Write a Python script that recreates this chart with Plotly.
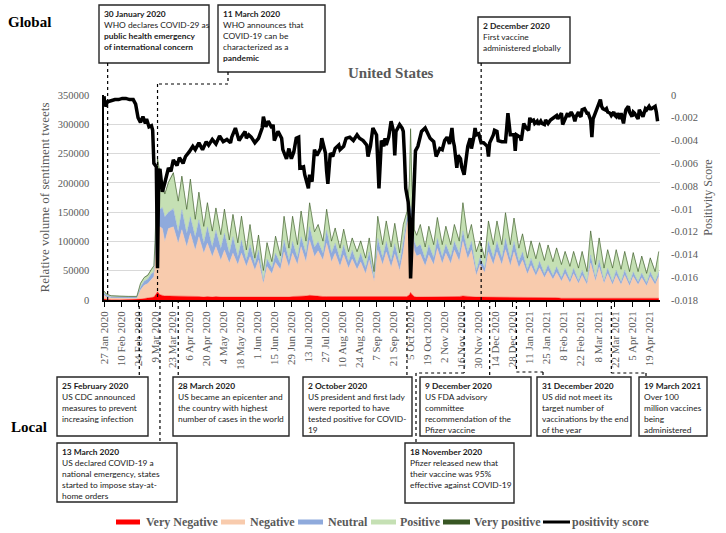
import pandas as pd
import plotly.graph_objects as go

BASE = pd.Timestamp("2020-01-27")
X_START, X_END = pd.Timestamp("2020-01-27"), pd.Timestamp("2021-04-28")

# ---------------- data (days since 27 Jan 2020) ----------------
area_day = [
    0, 2, 6, 13, 20, 27, 30, 33, 36, 39,
    41, 42, 43, 44, 46, 48, 50, 53, 57, 61,
    64, 68, 71, 75, 78, 82, 85, 89, 92, 96,
    99, 103, 106, 110, 113, 117, 120, 124, 127, 131,
    134, 138, 141, 145, 148, 152, 155, 159, 162, 166,
    169, 173, 176, 180, 183, 187, 190, 194, 197, 201,
    204, 208, 211, 215, 218, 222, 225, 229, 232, 236,
    239, 243, 246, 249, 251, 252, 253, 255, 257, 260,
    264, 267, 271, 274, 278, 281, 285, 288, 292, 295,
    299, 302, 306, 309, 313, 316, 320, 323, 327, 330,
    334, 337, 341, 344, 348, 351, 355, 358, 362, 365,
    369, 372, 376, 379, 383, 386, 390, 393, 397, 400,
    404, 407, 411, 414, 418, 421, 425, 428, 432, 435,
    439, 442, 446, 449, 453, 456,
]
very_negative = [
    1500, 800, 500, 400, 400, 500, 1500, 2500, 3000, 3500,
    5000, 8000, 12000, 14000, 9000, 8000, 7000, 7000, 7000, 6000,
    7000, 6000, 7000, 6000, 6000, 5000, 6000, 5000, 6000, 5000,
    5000, 5000, 5000, 4000, 5000, 4000, 4000, 4000, 4000, 4000,
    4000, 4000, 5000, 5000, 5000, 5000, 6000, 6000, 6000, 7000,
    8000, 7000, 6000, 6000, 6000, 6000, 6000, 5000, 5000, 5000,
    5000, 5000, 5000, 5000, 5000, 5000, 5000, 5000, 5000, 5000,
    5000, 5000, 5000, 6000, 9000, 13000, 10000, 6000, 5000, 5000,
    5000, 5000, 5000, 5000, 5000, 5000, 6000, 6000, 6000, 7000,
    6000, 6000, 5000, 5000, 5000, 5000, 5000, 5000, 5000, 5000,
    5000, 5000, 4000, 4000, 4000, 4000, 4000, 4000, 4000, 4000,
    4000, 4000, 3000, 3000, 3000, 3000, 3000, 3000, 3000, 4000,
    3000, 3000, 3000, 3000, 3000, 3000, 3000, 3000, 3000, 3000,
    3000, 3000, 3000, 3000, 3000, 3000,
]
negative = [
    6500, 4200, 3000, 2600, 2600, 2500, 15500, 22500, 25000, 32500,
    35000, 62000, 98000, 111000, 116000, 114000, 93000, 115000, 118000, 91000,
    113000, 85000, 107000, 79000, 102000, 75000, 91000, 69000, 85000, 63000,
    80000, 58000, 75000, 56000, 75000, 53000, 70000, 47000, 64000, 24000,
    53000, 41000, 59000, 47000, 77000, 51000, 74000, 54000, 85000, 58000,
    94000, 67000, 78000, 62000, 91000, 59000, 74000, 52000, 72000, 49000,
    65000, 47000, 60000, 40000, 63000, 27000, 80000, 55000, 77000, 51000,
    73000, 45000, 77000, 124000, 131000, 132000, 128000, 79000, 70000, 73000,
    53000, 72000, 55000, 83000, 57000, 75000, 56000, 79000, 60000, 93000,
    64000, 79000, 37000, 55000, 42000, 77000, 55000, 77000, 55000, 81000,
    53000, 77000, 51000, 64000, 40000, 55000, 37000, 51000, 34000, 46000,
    31000, 43000, 29000, 42000, 26000, 42000, 25000, 39000, 23000, 59000,
    29000, 53000, 25000, 42000, 23000, 39000, 23000, 39000, 21000, 37000,
    23000, 35000, 21000, 37000, 23000, 37000,
]
neutral = [
    4000, 3000, 2000, 2000, 1800, 2000, 5000, 7000, 8000, 9000,
    8000, 15000, 40000, 40000, 30000, 36000, 42000, 28000, 31000, 20000,
    34000, 23000, 28000, 23000, 29000, 17000, 28000, 17000, 28000, 20000,
    29000, 17000, 28000, 14000, 22000, 11000, 20000, 11000, 17000, 5000,
    13000, 10000, 16000, 10000, 20000, 12000, 20000, 12000, 17000, 15000,
    23000, 16000, 16000, 12000, 22000, 15000, 17000, 13000, 17000, 11000,
    15000, 10000, 15000, 10000, 14000, 6000, 20000, 12000, 18000, 12000,
    18000, 12000, 18000, 10000, 10000, 15000, 12000, 15000, 15000, 17000,
    12000, 17000, 12000, 17000, 12000, 15000, 12000, 15000, 14000, 18000,
    12000, 15000, 8000, 12000, 8000, 18000, 12000, 18000, 12000, 19000,
    12000, 18000, 11000, 14000, 8000, 12000, 7000, 11000, 7000, 10000,
    7000, 10000, 6000, 9000, 6000, 9000, 5000, 9000, 5000, 14000,
    6000, 12000, 5000, 9000, 5000, 9000, 5000, 9000, 5000, 8000,
    5000, 8000, 5000, 8000, 5000, 8000,
]
positive = [
    3000, 2000, 1500, 1000, 1200, 1000, 6000, 6000, 6000, 7000,
    10000, 15000, 50000, 75000, 60000, 37000, 38000, 50000, 60000, 51000,
    56000, 40000, 63000, 29000, 46000, 28000, 40000, 26000, 37000, 23000,
    40000, 22000, 37000, 23000, 40000, 17000, 34000, 9000, 25000, 17000,
    27000, 10000, 28000, 13000, 40000, 20000, 42000, 22000, 43000, 20000,
    40000, 26000, 28000, 20000, 35000, 20000, 25000, 18000, 26000, 17000,
    20000, 20000, 20000, 16000, 23000, 10000, 37000, 22000, 34000, 22000,
    34000, 18000, 28000, 10000, 50000, 130000, 50000, 20000, 20000, 33000,
    20000, 31000, 22000, 35000, 20000, 30000, 20000, 28000, 20000, 47000,
    23000, 28000, 32000, 28000, 16000, 34000, 22000, 34000, 22000, 43000,
    24000, 39000, 22000, 30000, 19000, 29000, 22000, 31000, 22000, 33000,
    23000, 31000, 22000, 28000, 22000, 28000, 21000, 31000, 17000, 40000,
    22000, 37000, 21000, 31000, 23000, 34000, 21000, 31000, 19000, 32000,
    17000, 28000, 16000, 23000, 17000, 34000,
]
very_positive = [
    300, 300, 200, 200, 200, 200, 500, 500, 500, 500,
    500, 800, 1500, 2000, 1500, 1200, 1000, 1200, 1500, 800,
    1500, 800, 1500, 800, 1200, 600, 1200, 600, 1200, 600,
    1200, 600, 1200, 600, 1200, 500, 1000, 500, 1000, 400,
    1000, 500, 1000, 500, 1000, 500, 1000, 500, 1000, 500,
    1000, 500, 1000, 500, 1000, 500, 1000, 500, 1000, 500,
    1000, 500, 1000, 500, 1000, 500, 1000, 500, 1000, 500,
    1000, 500, 1000, 800, 1500, 2500, 1500, 800, 500, 1000,
    500, 1000, 500, 1000, 500, 1000, 500, 1000, 500, 1200,
    500, 1000, 500, 1000, 500, 1000, 500, 1000, 500, 1000,
    500, 1000, 500, 1000, 500, 1000, 500, 1000, 500, 1000,
    500, 1000, 500, 1000, 500, 1000, 500, 1000, 500, 1000,
    500, 1000, 500, 1000, 500, 1000, 500, 1000, 500, 1000,
    500, 1000, 500, 1000, 500, 1000,
]

pos_day = [
    0, 1, 3, 6, 9, 12, 15, 18, 21, 24,
    26, 28, 30, 32, 34, 35, 37, 39, 40, 41,
    43, 44, 45, 46, 48, 50, 53, 55, 57, 60,
    62, 65, 67, 70, 73, 75, 78, 81, 84, 86,
    89, 92, 95, 98, 101, 104, 105, 108, 111, 114,
    116, 117, 119, 121, 124, 127, 130, 131, 133, 135,
    138, 139, 140, 143, 146, 147, 150, 152, 154, 156,
    158, 160, 161, 164, 165, 168, 169, 171, 172, 173,
    175, 178, 179, 182, 183, 184, 186, 188, 190, 193,
    194, 197, 199, 202, 205, 208, 210, 213, 216, 217,
    219, 221, 224, 226, 228, 230, 231, 232, 234, 235,
    236, 238, 239, 240, 242, 243, 245, 246, 247, 248,
    250, 251, 252, 254, 255, 256, 258, 259, 261, 264,
    266, 268, 271, 272, 273, 276, 278, 280, 282, 284,
    286, 287, 288, 290, 291, 293, 294, 296, 298, 299,
    301, 302, 304, 305, 306, 308, 309, 310, 312, 315,
    316, 317, 320, 321, 323, 324, 327, 330, 331, 332,
    334, 335, 337, 338, 339, 342, 343, 345, 347, 349,
    350, 351, 353, 354, 356, 357, 359, 360, 362, 363,
    365, 367, 370, 372, 373, 375, 376, 377, 379, 381,
    382, 384, 386, 387, 388, 390, 391, 392, 393, 395,
    397, 398, 400, 401, 402, 403, 405, 406, 408, 409,
    410, 412, 413, 414, 416, 417, 419, 420, 421, 422,
    424, 425, 427, 428, 429, 431, 432, 434, 435, 436,
    438, 439, 440, 442, 443, 445, 446, 448, 449, 450,
    452, 453, 454, 455,
]
pos_score = [
    -0.0001, -0.0010, -0.0006, -0.0005, -0.0004, -0.0004, -0.0003, -0.0003, -0.0004, -0.0004,
    -0.0008, -0.0020, -0.0024, -0.0019, -0.0025, -0.0021, -0.0028, -0.0027, -0.0031, -0.0060,
    -0.0063, -0.0152, -0.0067, -0.0065, -0.0085, -0.0077, -0.0064, -0.0067, -0.0057, -0.0062,
    -0.0055, -0.0060, -0.0054, -0.0050, -0.0045, -0.0048, -0.0042, -0.0048, -0.0041, -0.0044,
    -0.0039, -0.0043, -0.0036, -0.0041, -0.0039, -0.0042, -0.0037, -0.0029, -0.0040, -0.0035,
    -0.0032, -0.0038, -0.0035, -0.0037, -0.0042, -0.0038, -0.0029, -0.0019, -0.0028, -0.0023,
    -0.0029, -0.0026, -0.0040, -0.0032, -0.0038, -0.0048, -0.0056, -0.0047, -0.0056, -0.0050,
    -0.0038, -0.0037, -0.0064, -0.0063, -0.0070, -0.0082, -0.0070, -0.0076, -0.0059, -0.0048,
    -0.0053, -0.0047, -0.0038, -0.0051, -0.0067, -0.0078, -0.0051, -0.0054, -0.0047, -0.0044,
    -0.0048, -0.0045, -0.0038, -0.0037, -0.0040, -0.0035, -0.0038, -0.0040, -0.0044, -0.0054,
    -0.0045, -0.0029, -0.0035, -0.0082, -0.0040, -0.0045, -0.0038, -0.0044, -0.0037, -0.0029,
    -0.0023, -0.0032, -0.0053, -0.0032, -0.0028, -0.0026, -0.0029, -0.0032, -0.0054, -0.0082,
    -0.0094, -0.0108, -0.0161, -0.0105, -0.0073, -0.0049, -0.0045, -0.0041, -0.0032, -0.0029,
    -0.0034, -0.0038, -0.0041, -0.0048, -0.0054, -0.0047, -0.0048, -0.0040, -0.0037, -0.0043,
    -0.0029, -0.0040, -0.0045, -0.0064, -0.0053, -0.0056, -0.0063, -0.0070, -0.0056, -0.0045,
    -0.0038, -0.0047, -0.0037, -0.0029, -0.0035, -0.0034, -0.0038, -0.0042, -0.0042, -0.0045,
    -0.0054, -0.0042, -0.0035, -0.0031, -0.0032, -0.0040, -0.0041, -0.0041, -0.0029, -0.0016,
    -0.0035, -0.0035, -0.0035, -0.0049, -0.0035, -0.0037, -0.0040, -0.0025, -0.0029, -0.0031,
    -0.0020, -0.0023, -0.0022, -0.0025, -0.0023, -0.0026, -0.0023, -0.0025, -0.0026, -0.0022,
    -0.0025, -0.0022, -0.0019, -0.0018, -0.0021, -0.0018, -0.0016, -0.0026, -0.0021, -0.0016,
    -0.0019, -0.0015, -0.0019, -0.0023, -0.0019, -0.0015, -0.0018, -0.0019, -0.0013, -0.0012,
    -0.0016, -0.0016, -0.0022, -0.0037, -0.0021, -0.0018, -0.0013, -0.0009, -0.0004, -0.0010,
    -0.0012, -0.0013, -0.0012, -0.0015, -0.0016, -0.0018, -0.0015, -0.0018, -0.0019, -0.0016,
    -0.0021, -0.0016, -0.0025, -0.0018, -0.0013, -0.0010, -0.0015, -0.0019, -0.0015, -0.0016,
    -0.0019, -0.0021, -0.0013, -0.0018, -0.0019, -0.0012, -0.0013, -0.0010, -0.0012, -0.0012,
    -0.0010, -0.0010, -0.0015, -0.0023,
]

tick_labels = [
    "27 Jan 2020", "10 Feb 2020", "24 Feb 2020", "9 Mar 2020", "23 Mar 2020",
    "6 Apr 2020", "20 Apr 2020", "4 May 2020", "18 May 2020", "1 Jun 2020",
    "15 Jun 2020", "29 Jun 2020", "13 Jul 2020", "27 Jul 2020", "10 Aug 2020",
    "24 Aug 2020", "7 Sep 2020", "21 Sep 2020", "5 Oct 2020", "19 Oct 2020",
    "2 Nov 2020", "16 Nov 2020", "30 Nov 2020", "14 Dec 2020", "28 Dec 2020",
    "11 Jan 2021", "25 Jan 2021", "8 Feb 2021", "22 Feb 2021", "8 Mar 2021",
    "22 Mar 2021", "5 Apr 2021", "19 Apr 2021",
]
left_ticks = [0, 50000, 100000, 150000, 200000, 250000, 300000, 350000]
right_ticks = [0, -0.002, -0.004, -0.006, -0.008, -0.01, -0.012, -0.014, -0.016, -0.018]
right_labels = ["0", "-0.002", "-0.004", "-0.006", "-0.008", "-0.01", "-0.012", "-0.014", "-0.016", "-0.018"]

events = [
    ("2020-01-30", "<b>30 January 2020</b><br>WHO declares COVID-29 as<br><b>public health emergency</b><br><b>of international concern</b>"),
    ("2020-03-11", "<b>11 March 2020</b><br>WHO announces that<br>COVID-19 can be<br>characterized as a<br><b>pandemic</b>"),
    ("2020-12-02", "<b>2 December 2020</b><br>First vaccine<br>administered globally"),
    ("2020-02-25", "<b>25 February 2020</b><br>US CDC announced<br>measures to prevent<br>increasing infection"),
    ("2020-03-28", "<b>28 March 2020</b><br>US became an epicenter and<br>the country with highest<br>number of cases in the world"),
    ("2020-10-02", "<b>2 October 2020</b><br>US president and first lady<br>were reported to have<br>tested positive for COVID-<br>19"),
    ("2020-12-09", "<b>9 December 2020</b><br>US FDA advisory<br>committee<br>recommendation of the<br>Pfizer vaccine"),
    ("2020-12-31", "<b>31 December 2020</b><br>US did not meet its<br>target number of<br>vaccinations by the end<br>of the year"),
    ("2021-03-19", "<b>19 March 2021</b><br>Over 100<br>million vaccines<br>being<br>administered"),
    ("2020-03-13", "<b>13 March 2020</b><br>US declared COVID-19 a<br>national emergency, states<br>started to impose stay-at-<br>home orders"),
    ("2020-11-18", "<b>18 November 2020</b><br>Pfizer released new that<br>their vaccine was 95%<br>effective against COVID-19"),
]
box_px = [
    (99, 5, 209, 63), (218, 5, 325, 72), (478, 17, 570, 63),
    (57, 377, 148, 436), (173, 377, 289, 436), (303, 377, 412, 436),
    (420, 377, 531, 436), (537, 377, 631, 436), (639, 377, 707, 436),
    (57, 443, 177, 502), (405, 443, 514, 503),
]

# ---------------- figure ----------------
W, H = 726, 533
L, R, T, B = 104, 66, 95, 233
PW, PH = W - L - R, H - T - B


def px(x):
    return (x - L) / PW


def py(y):
    return (T + PH - y) / PH


def dx(date):
    d = pd.Timestamp(date)
    return (d - X_START) / (X_END - X_START)


area_x = [BASE + pd.Timedelta(days=d) for d in area_day]
pos_x = [BASE + pd.Timedelta(days=d) for d in pos_day]

fig = go.Figure()
layers = [
    ("Very Negative", very_negative, "#FF0000"),
    ("Negative", negative, "#F8CBAD"),
    ("Neutral", neutral, "#8FAADC"),
    ("Positive", positive, "#C5E0B4"),
    ("Very positive", very_positive, "#375623"),
]
for name, vals, col in layers:
    fig.add_trace(go.Scatter(
        x=area_x, y=vals, name=name, mode="lines", stackgroup="s",
        line=dict(color=col, width=0.6 if name == "Very positive" else 0.4),
        fillcolor=col,
    ))
fig.add_trace(go.Scatter(
    x=pos_x, y=pos_score, name="positivity score", mode="lines",
    line=dict(color="black", width=3.5), yaxis="y2",
))

serif = "Liberation Serif, Times New Roman, serif"
gray = "#595959"
boxfont = "Lato, sans-serif"

shapes = []
annotations = []
DOT = dict(color="black", width=1.2, dash="dot")

for (date, text), (x0, y0, x1, y1) in zip(events, box_px):
    shapes.append(dict(type="rect", xref="paper", yref="paper", x0=px(x0), x1=px(x1),
                       y0=py(y1), y1=py(y0), line=dict(color="#262626", width=1.4),
                       fillcolor="white", layer="above"))
    annotations.append(dict(xref="paper", yref="paper", x=px(x0 + 3), y=py(y0 + 2),
                            xanchor="left", yanchor="top", align="left", showarrow=False,
                            text=text, font=dict(family=boxfont, size=8.4, color="#1a1a1a")))


def seg(xa, ya, xb, yb):
    shapes.append(dict(type="line", xref="paper", yref="paper", x0=xa, y0=ya, x1=xb, y1=yb,
                       line=DOT, layer="above"))


# upper connectors
seg(dx("2020-01-30"), py(63), dx("2020-01-30"), py(300))
seg(px(228), py(72), px(228), py(84))
seg(px(228), py(84), dx("2020-03-11"), py(84))
seg(dx("2020-03-11"), py(84), dx("2020-03-11"), py(300))
seg(dx("2020-12-02"), py(63), dx("2020-12-02"), py(300))
# lower connectors
for d in ["2020-02-25", "2020-03-28", "2020-10-02", "2020-12-09"]:
    seg(dx(d), py(300), dx(d), py(377))
seg(dx("2020-03-13"), py(300), dx("2020-03-13"), py(443))
seg(dx("2020-11-18"), py(300), dx("2020-11-18"), py(373))
seg(dx("2020-11-18"), py(373), px(416), py(373))
seg(px(416), py(373), px(416), py(443))
seg(dx("2020-12-31"), py(300), dx("2020-12-31"), py(372))
seg(dx("2020-12-31"), py(372), px(543), py(372))
seg(px(543), py(372), px(543), py(377))
seg(dx("2021-03-19"), py(300), dx("2021-03-19"), py(373))
seg(dx("2021-03-19"), py(373), px(646), py(373))
seg(px(646), py(373), px(646), py(377))

# legend (drawn as swatches + labels, one row like the original)
legend_items = [(n, c) for n, _, c in layers] + [("positivity score", "black")]
swatch_px = [(116, 140), (221, 245), (298, 323), (371, 396), (443, 470), (543, 570)]
label_px = [144, 248, 326, 398, 472, 570]
LEG_Y = 522
for (name, col), (s0, s1), lx in zip(legend_items, swatch_px, label_px):
    if name == "positivity score":
        shapes.append(dict(type="line", xref="paper", yref="paper", x0=px(s0), x1=px(s1),
                           y0=py(LEG_Y), y1=py(LEG_Y), line=dict(color=col, width=3)))
    else:
        shapes.append(dict(type="rect", xref="paper", yref="paper", x0=px(s0), x1=px(s1),
                           y0=py(LEG_Y + 2.5), y1=py(LEG_Y - 2.5), line=dict(width=0),
                           fillcolor=col))
    annotations.append(dict(xref="paper", yref="paper", x=px(lx), y=py(LEG_Y), xanchor="left",
                            yanchor="middle", text="<b>%s</b>" % name, showarrow=False,
                            font=dict(family=serif, size=12, color=gray)))

annotations += [
    dict(xref="paper", yref="paper", x=px(29), y=py(22), xanchor="center", yanchor="middle",
         text="<b>Global</b>", showarrow=False, font=dict(family=serif, size=15, color="black")),
    dict(xref="paper", yref="paper", x=px(29), y=py(427), xanchor="center", yanchor="middle",
         text="<b>Local</b>", showarrow=False, font=dict(family=serif, size=15, color="black")),
    dict(xref="paper", yref="paper", x=px(391), y=py(73), xanchor="center", yanchor="middle",
         text="<b>United States</b>", showarrow=False, font=dict(family=serif, size=15, color=gray)),
]

fig.update_layout(
    width=W, height=H, margin=dict(l=L, r=R, t=T, b=B, autoexpand=False),
    paper_bgcolor="white", plot_bgcolor="white",
    showlegend=False,
    xaxis=dict(type="date", range=[X_START, X_END], tickvals=pd.to_datetime(tick_labels, format="%d %b %Y"),
               ticktext=tick_labels, tickangle=-90, showgrid=False, zeroline=False,
               showline=True, linecolor="black", linewidth=1.5, ticks="outside", ticklen=5,
               tickcolor="black", tickfont=dict(family=serif, size=11, color=gray), automargin=False),
    yaxis=dict(range=[0, 350000], tickvals=left_ticks, ticktext=[str(v) for v in left_ticks],
               showgrid=True, gridcolor="#D9D9D9", gridwidth=1, zeroline=False,
               showline=True, linecolor="black", linewidth=1.5,
               tickfont=dict(family=serif, size=10.5, color=gray), ticklabelstandoff=11,
               title=dict(text="Relative volume of sentiment tweets", standoff=5,
                          font=dict(family=serif, size=13, color=gray)), automargin=False),
    yaxis2=dict(range=[-0.018, 0], overlaying="y", side="right", tickvals=right_ticks,
                ticktext=right_labels, showgrid=False, zeroline=False, showline=False,
                tickfont=dict(family=serif, size=10.5, color=gray), ticklabelstandoff=10,
                title=dict(text="Positivity Score", standoff=5,
                           font=dict(family=serif, size=12, color=gray)), automargin=False),
    shapes=shapes, annotations=annotations,
)

fig.write_html("out.html", config={"displayModeBar": False},
               post_script="document.body.style.margin='0';document.body.style.padding='0';")
